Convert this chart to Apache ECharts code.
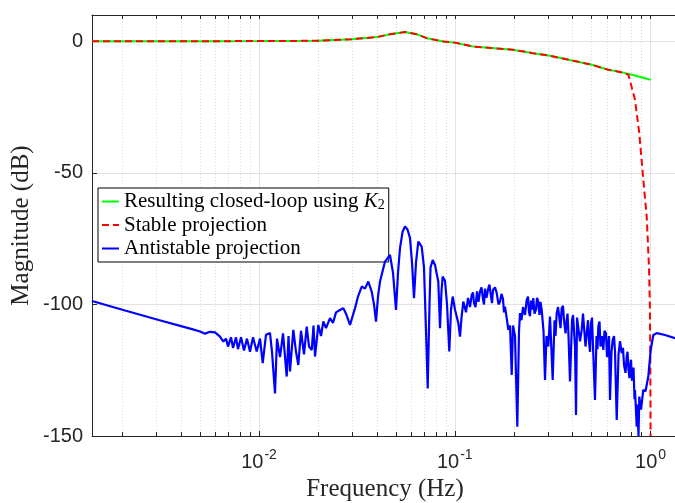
<!DOCTYPE html>
<html>
<head>
<meta charset="utf-8">
<script src="https://cdn.jsdelivr.net/npm/echarts@6/dist/echarts.min.js"></script>
<style>
html,body{margin:0;padding:0;background:#fff;}
#c{width:675px;height:503px;}
</style>
</head>
<body>
<div id="c"></div>
<script>
// ---- data ----
const xMin = 0.001403;
const xMax = 1.38;
const majorTicks = [0.01, 0.1, 1];
const minorTicks = [0.002,0.003,0.004,0.005,0.006,0.007,0.008,0.009,
                    0.02,0.03,0.04,0.05,0.06,0.07,0.08,0.09,
                    0.2,0.3,0.4,0.5,0.6,0.7,0.8,0.9];
const yTicks = [-150, -100, -50, 0];

const seriesNames = ['Resulting closed-loop using K2', 'Stable projection', 'Antistable projection'];

const greenFreq = [0.001403,0.003,0.006,0.01,0.0197,0.02973,0.03992,0.04667,0.0557,0.0639,0.0719,0.0874,0.1,0.1239,0.198,0.2508,0.306,0.403,0.5003,0.6081,0.7253,0.85,1.0];
const greenMag  = [0,0,0.05,0.1,0.2,0.8,1.6,2.7,3.5,2.7,1.2,-0.1,-0.5,-2.0,-3.2,-4.5,-5.5,-7.4,-8.9,-10.8,-11.9,-13.2,-14.6];

const redFreq = [0.001403,0.003,0.006,0.01,0.0197,0.02973,0.03992,0.04667,0.0557,0.0639,0.0719,0.0874,0.1,0.1239,0.198,0.2508,0.306,0.403,0.5003,0.6081,0.7253,0.77,0.832,0.875,0.918,0.955,0.981,0.992,0.997,1.0];
const redMag  = [0,0,0.05,0.1,0.2,0.8,1.6,2.7,3.5,2.7,1.2,-0.1,-0.5,-2.0,-3.2,-4.5,-5.5,-7.4,-8.9,-10.8,-11.9,-12.7,-22.2,-34.8,-52.7,-66.6,-85.6,-102,-125,-150];

// antistable projection: main trace
const blueFreq = [0.001403,0.002069,0.003074,0.004547,0.004998,0.0053,0.00562,0.005962,0.006322,0.006573,
0.006785,0.006947,0.007194,0.007365,0.007629,0.00781,0.008092,0.008381,0.008682,0.008995,
0.009319,0.009733,0.01012,0.010445,0.010858,0.011381,0.011652,0.01207,0.012357,0.012804,
0.013262,0.013852,0.014149,0.014398,0.01497,0.015453,0.015875,0.016387,0.016975,0.017523,
0.018006,0.018587,0.018981,0.01932,0.020088,0.020732,0.021303,0.021989,0.023047,0.023874,
0.024736,0.025925,0.026948,0.027818,0.029158,0.030925,0.032036,0.033458,0.034784,0.036158,
0.037634,0.038663,0.039581,0.040528,0.041495,0.044005,0.046666,0.04835,0.050084,0.051274,
0.052492,0.054064,0.05568,0.057333,0.059046,0.060449,0.061885,0.063355,0.065098,0.066416,
0.067744,0.069611,0.071266,0.072708,0.074264,0.07514,0.077101,0.079226,0.08235,0.084016,
0.085519,0.086726,0.089097,0.091233,0.093723,0.09562,0.097556,0.10023,0.10421,0.10632,
0.1082,0.11052,0.11408,0.11679,0.12199,0.12534,0.12984,0.13449,0.13932,0.14263,
0.14829,0.15307,0.15671,0.16368,0.17014,0.17627,0.18046,0.18475,0.18758,0.19138,
0.19525,0.19824,0.20299,0.20854,0.21277,0.21528,0.22299,0.2329,0.23933,0.24501,
0.2517,0.25982,0.26599,0.27782,0.28379,0.28886,0.29397,0.30026,0.30634,0.31623,
0.323,0.33144,0.34057,0.35156,0.36117,0.37283,0.38081,0.38754,0.39683,0.40626,
0.41591,0.4258,0.44474,0.45697,0.47173,0.48464,0.49615,0.50794,0.52,0.5293,
0.54063,0.55475,0.57332,0.59183,0.6059,0.6203,0.63139,0.64033,0.65797,0.67129,
0.68567,0.7119,0.7315,0.75509,0.7711,0.7849,0.80353,0.83233,0.84918,0.85724,
0.86736,0.8756,0.89331,0.9177,0.94189,0.97342,1.0012,1.0323,1.0745,1.1846,
1.3325];
const blueMag = [-98.7,-102.3,-105.9,-109.4,-110.3,-111.1,-110.4,-110.6,-112.2,-114.1,
-113,-116,-112.5,-116.5,-112.5,-117,-112.5,-117.5,-113,-118,
-112.5,-117.9,-113,-122.3,-111.5,-110.9,-118,-133.8,-113,-120,
-111,-127.4,-112,-125.5,-109.7,-118,-123,-110,-119,-108.4,
-116,-117.3,-108,-119.8,-107.8,-112,-106.5,-109,-105.2,-107,
-103,-102.1,-101.4,-103.5,-107.8,-101.4,-97,-93.2,-94,-91.3,
-95.1,-100,-106.5,-97,-91.3,-83.7,-81.2,-88,-102.1,-88,
-78.6,-72.5,-70.4,-71.5,-74.8,-84,-97.6,-84,-76.1,-75.5,
-78,-86,-110,-131.9,-100,-86,-83.1,-85,-91.3,-109,
-95,-89.4,-91,-100,-117.9,-102,-97,-102,-107.1,-112.2,
-105,-98.9,-103,-97.5,-96.4,-99.5,-95,-95.1,-98,-94,
-93.8,-97,-94.5,-95.7,-99,-98,-100.8,-106,-109.7,-108,
-126.8,-108,-112,-146.5,-110,-103.3,-101,-98.3,-103,-98.5,
-97.6,-102,-98.5,-102.1,-110,-128.7,-112,-116,-104.6,-128.7,
-106,-103.3,-104,-101.4,-106,-105.9,-112,-129.3,-106,-110,
-142,-108,-109.7,-104,-110.9,-114,-107,-116,-136.3,-112,
-108.4,-116,-117.3,-111,-116,-136.3,-118,-113.5,-118,-143.9,
-119,-118.5,-123,-119.8,-125,-123.6,-129,-132.5,-146.5,-138,
-150,-135,-140,-132.5,-133,-127.4,-117.3,-111.6,-110.9,-111.6,
-112.8];
// antistable projection: extra reads of the noise band (merged with the trace by frequency)
const blueFreqBand = [0.11958,0.12388,0.12757,0.13213,0.13689,0.14096,0.14517,0.15038,0.15488,0.16043,0.16717,0.17317,0.17834,
0.21912,0.22828,0.2365,0.24213,0.24788,0.25527,0.26288,0.27074,0.27394,
0.32686,0.3366,0.34661,0.35696,0.36762,0.37636,0.40157,0.41111,0.42088,0.43597,0.45159,0.46508,0.47894,0.49032,0.50197,
0.53555,0.54828,0.56465,0.58151,0.59883,0.61306,0.65028,0.69775,0.72277,0.7444,0.76208,0.7802,0.79414,0.81786,0.82758];
const blueMagBand = [-101,-95.5,-101,-99,-93.5,-100,-97.5,-92.5,-99.5,-93.5,-100,-96,-103,
-106,-104,-97,-104.5,-102,-103.5,-97.5,-104,-99,
-112,-101,-109,-100.5,-111,-103.5,-104,-116,-105,-114,-103.5,-116,-106,-118,-105,
-117,-106.5,-112,-110,-120,-112,-112,-114,-116.5,-126,-118,-128,-121,-124,-136];

// ---- chart ----
const zip = (a, b) => a.map((v, i) => [v, b[i]]);
const blueData = zip(blueFreq, blueMag).concat(zip(blueFreqBand, blueMagBand)).sort((p, q) => p[0] - q[0]);
const axisColor = '#262626';
const sans = 'Liberation Sans';
const serif = 'Liberation Serif';

const chart = echarts.init(document.getElementById('c'), null, {renderer: 'canvas'});
const logAxisBase = {type: 'log', logBase: 10, min: xMin, max: xMax, gridIndex: 0};

chart.setOption({
  animation: false,
  backgroundColor: '#ffffff',
  grid: {left: 92, right: -3, top: 15, bottom: 67, containLabel: false, outerBoundsMode: 'none'},
  legend: {
    orient: 'vertical', left: 98, top: 188,
    backgroundColor: '#ffffff', borderColor: '#000000', borderWidth: 1, borderRadius: 0,
    padding: [3, 4, 3, 3], itemGap: 2.5, itemWidth: 17, itemHeight: 10,
    data: seriesNames,
    itemStyle: {opacity: 0},
    formatter: function (name) {
      return name === seriesNames[0] ? 'Resulting closed-loop using {i|K}{sub|2}' : name;
    },
    textStyle: {
      fontFamily: serif, fontSize: 21, color: '#000', lineHeight: 21,
      rich: {
        i: {fontFamily: serif, fontSize: 21, fontStyle: 'italic', color: '#000'},
        sub: {fontFamily: serif, fontSize: 14, color: '#000', verticalAlign: 'bottom', padding: [7, 0, 0, 0]}
      }
    }
  },
  xAxis: [
    Object.assign({}, logAxisBase, {
      position: 'bottom',
      name: 'Frequency (Hz)', nameLocation: 'middle', nameGap: 40,
      nameTextStyle: {fontFamily: serif, fontSize: 25, color: axisColor},
      axisLine: {show: true, onZero: false, lineStyle: {color: axisColor, width: 1}},
      axisTick: {show: true, inside: true, length: 5, customValues: majorTicks, lineStyle: {color: axisColor}},
      axisLabel: {
        show: true, customValues: majorTicks, margin: 12,
        formatter: function (v) { return '{b|10}{s|' + Math.round(Math.log10(v)) + '}'; },
        rich: {
          b: {fontFamily: sans, fontSize: 20, color: axisColor, verticalAlign: 'bottom'},
          s: {fontFamily: sans, fontSize: 14, color: axisColor, verticalAlign: 'top', padding: [0, 0, 10, 1]}
        }
      },
      splitLine: {show: true, lineStyle: {color: '#e2e2e2', width: 1}}
    }),
    Object.assign({}, logAxisBase, {
      position: 'bottom',
      axisLine: {show: false, onZero: false},
      axisTick: {show: true, inside: true, length: 4, customValues: minorTicks, lineStyle: {color: axisColor}},
      axisLabel: {show: false},
      splitLine: {show: true, lineStyle: {color: '#d9d9d9', width: 1, type: [1, 2]}}
    }),
    Object.assign({}, logAxisBase, {
      position: 'top',
      axisLine: {show: true, onZero: false, lineStyle: {color: axisColor, width: 1}},
      axisTick: {show: true, inside: true, length: 4, customValues: majorTicks.concat(minorTicks), lineStyle: {color: axisColor}},
      axisLabel: {show: false},
      splitLine: {show: false}
    })
  ],
  yAxis: [{
    type: 'value', min: -150, max: 10, interval: 50,
    name: 'Magnitude (dB)', nameLocation: 'middle', nameGap: 58, nameRotate: 90, nameMoveOverlap: false,
    nameTextStyle: {fontFamily: serif, fontSize: 25, color: axisColor},
    axisLine: {show: true, onZero: false, lineStyle: {color: axisColor, width: 1}},
    axisTick: {show: true, inside: true, length: 5, customValues: yTicks, lineStyle: {color: axisColor}},
    axisLabel: {customValues: yTicks, margin: 9, fontFamily: sans, fontSize: 20, color: axisColor,
      formatter: function (v) { return String(v); }},
    splitLine: {show: true, lineStyle: {color: '#e2e2e2', width: 1}}
  }],
  series: [
    {name: seriesNames[0], type: 'line', xAxisIndex: 0, data: zip(greenFreq, greenMag),
     showSymbol: false, symbol: 'none', smooth: false,
     lineStyle: {color: '#00ff00', width: 2}, itemStyle: {color: '#00ff00'}, z: 2},
    {name: seriesNames[1], type: 'line', xAxisIndex: 0, data: zip(redFreq, redMag),
     showSymbol: false, symbol: 'none',
     lineStyle: {color: '#ff0000', width: 2, type: [7, 4]}, itemStyle: {color: '#ff0000'}, z: 3},
    {name: seriesNames[2], type: 'line', xAxisIndex: 0, data: blueData,
     showSymbol: false, symbol: 'none',
     lineStyle: {color: '#0000ff', width: 2.2}, itemStyle: {color: '#0000ff'}, z: 4}
  ]
});
</script>
</body>
</html>
